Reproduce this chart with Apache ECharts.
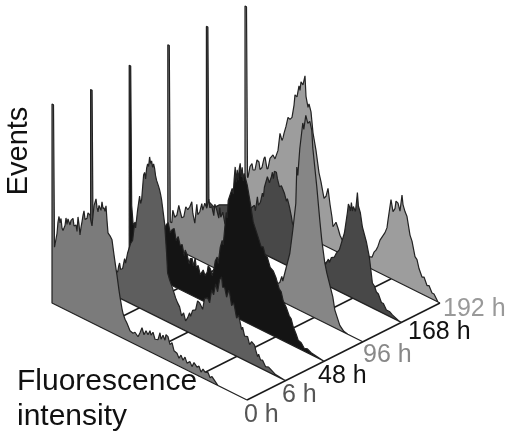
<!DOCTYPE html>
<html>
<head>
<meta charset="utf-8">
<title>Events vs fluorescence intensity</title>
<script src="https://cdn.jsdelivr.net/npm/echarts@6/dist/echarts.min.js"></script>
<style>
  html, body { margin: 0; padding: 0; background: #fff; }
  #chart { width: 512px; height: 439px; }
</style>
</head>
<body>
<div id="chart"></div>
<script>
// histograms as [channel, events]
const hist0h = [[0,0],[0,199],[1.5,199],[2.5,57],[3,60],[5,72],[6,84],[7,90],[8,84],[9,89],[10,80],[11,78],[13,84],[14,92],[15,86],[16,92],[18,87],[19,92],[21,95],[22,88],[24,90],[25,84],[26,99],[27,92],[28,82],[29,90],[30,96],[31,103],[32,108],[33,100],[35,102],[36,108],[38,107],[39,101],[40,97],[41,108],[42,118],[44,126],[45,118],[46,114],[47,121],[49,117],[50,126],[51,120],[52,121],[53,118],[54,124],[55,110],[56,98],[58,96],[60,93],[62,79],[64,66],[65,60],[67,46],[68,40],[70,29],[71,25],[73,20],[75,17],[78,11],[81,10],[83,12],[86,9],[88,14],[90,20],[92,14],[94,19],[96,16],[98,21],[99,17],[101,21],[103,15],[106,16],[108,24],[109,18],[111,23],[113,19],[114,25],[116,24],[118,17],[120,20],[122,13],[125,12],[127,8],[129,12],[131,8],[133,12],[135,7],[138,10],[140,6],[142,11],[145,8],[147,10],[149,5],[151,9],[153,7],[156,8],[158,4],[160,6],[163,3],[166,0],[195,0]];
const hist6h = [[0,0],[0,194],[1.5,194],[2.5,40],[5,30],[15,28],[27,25],[28,31],[29,35],[30,29],[32,31],[34,42],[35,38],[37,49],[40,60],[42,64],[44,82],[45,78],[47,97],[49,112],[50,105],[51,109],[53,135],[54,138],[55,132],[56,143],[57,148],[58,146],[59,156],[60,150],[61,153],[62,147],[63,151],[64,147],[65,140],[66,136],[68,131],[69,128],[70,124],[71,119],[74,97],[76,68],[77,49],[79,43],[82,36],[85,28],[87,24],[89,21],[91,13],[93,17],[95,10],[97,14],[99,20],[100,17],[102,24],[105,26],[107,36],[109,35],[112,30],[114,42],[117,44],[119,40],[121,54],[123,50],[125,62],[127,55],[129,68],[131,72],[132,62],[134,63],[136,54],[138,62],[139,60],[141,48],[143,52],[144,48],[146,38],[148,42],[149,38],[151,29],[152,32],[154,24],[157,25],[159,18],[161,22],[164,20],[165,16],[167,10],[168,13],[170,8],[172,9],[175,4],[178,5],[185,1],[193,0],[195,0]];
const hist48h = [[0,0],[0,199],[1.5,199],[2.5,60],[4,41],[6,45],[8,36],[21,30],[31,40],[37,58],[39,61],[41,52],[43,56],[45,58],[47,47],[49,52],[51,44],[53,46],[55,36],[56,42],[58,38],[60,30],[61,36],[63,37],[64,30],[66,39],[67,30],[69,33],[71,25],[74,31],[76,26],[78,31],[79,38],[81,36],[83,30],[85,39],[86,46],[88,51],[89,45],[91,62],[93,70],[94,66],[96,89],[97,100],[98,95],[99,113],[101,120],[103,127],[104,122],[105,138],[106,150],[107,135],[108,148],[109,138],[110,150],[111,156],[112,143],[113,153],[114,140],[115,148],[118,138],[121,122],[124,104],[129,91],[132,83],[134,84],[136,77],[138,76],[141,67],[144,65],[147,59],[150,50],[152,48],[154,40],[157,35],[160,28],[162,26],[164,19],[167,13],[169,8],[172,7],[175,3],[178,4],[182,2],[194,0],[195,0]];
const hist96h = [[0,0],[0,200],[1.5,200],[2.5,24],[4,24],[5,37],[7,31],[9,34],[11,45],[12,41],[14,34],[16,36],[18,47],[20,45],[22,49],[24,55],[25,44],[27,35],[29,55],[30,45],[32,49],[34,58],[35,52],[37,60],[39,56],[41,66],[42,58],[44,60],[46,52],[47,64],[49,59],[51,52],[52,63],[53,54],[55,60],[57,50],[72,30],[92,20],[110,16],[112,18],[114,25],[115,21],[117,30],[122,52],[125,77],[128,105],[129,142],[130,134],[132,162],[135,189],[136,183],[138,198],[140,191],[142,194],[144,186],[145,169],[149,132],[152,100],[154,81],[157,60],[159,51],[165,30],[167,18],[172,5],[176,1],[180,0],[195,0]];
const hist168h = [[0,0],[0,199],[1.5,199],[2.5,25],[8,22],[13,27],[21,31],[33,35],[45,40],[48,44],[49,39],[51,54],[52,46],[54,50],[56,60],[57,57],[58,67],[61,79],[63,74],[65,81],[66,86],[67,80],[68,88],[70,88],[71,82],[73,75],[75,77],[78,71],[80,64],[81,67],[83,60],[85,51],[86,45],[98,29],[119,20],[122,27],[123,24],[125,30],[128,32],[130,37],[133,42],[138,61],[141,83],[142,92],[143,90],[144,86],[145,95],[146,87],[147,92],[149,88],[150,97],[151,108],[152,95],[154,89],[156,76],[160,63],[163,49],[166,25],[168,23],[170,18],[172,17],[175,10],[177,10],[180,5],[183,5],[186,3],[193,0],[195,0]];
const hist192h = [[0,0],[0,200],[1.5,200],[2.5,30],[3,30],[5,42],[7,46],[8,40],[10,41],[12,52],[14,51],[15,44],[17,47],[19,57],[20,59],[22,48],[23,49],[25,60],[28,65],[30,62],[33,72],[35,90],[37,84],[38,87],[39,92],[41,100],[43,110],[45,109],[47,112],[49,125],[50,136],[52,135],[54,147],[55,143],[56,152],[58,150],[60,160],[61,140],[63,130],[64,134],[66,127],[68,107],[71,91],[74,70],[76,62],[79,47],[81,50],[83,59],[85,44],[87,32],[88,23],[91,29],[93,24],[95,18],[98,13],[110,6],[127,12],[129,18],[131,21],[133,26],[135,33],[140,43],[142,49],[143,57],[146,79],[148,68],[150,72],[151,80],[153,79],[155,72],[157,89],[158,80],[160,74],[162,70],[165,53],[167,48],[170,34],[172,32],[174,24],[177,17],[179,18],[182,11],[184,12],[187,6],[189,6],[193,0],[195,0]];

const hours = ["0 h", "6 h", "48 h", "96 h", "168 h", "192 h"];
const histograms = [hist0h, hist6h, hist48h, hist96h, hist168h, hist192h];
const fills = ["#7b7b7b", "#5e5e5e", "#141414", "#868686", "#484848", "#9d9d9d"];
const floorChannels = [48.75, 97.5, 146.25, 195];

// oblique projection, one step back in time moves the plane by this much
const DEPTH_X = 38.6;
const DEPTH_Y = 19.4;
const SLOPE = 0.4974;
const project = (channel, layer, events) => [
  channel + DEPTH_X * layer,
  events - SLOPE * channel + DEPTH_Y * layer,
];

const chart = echarts.init(document.getElementById("chart"));

const floorSeries = {
  type: "custom",
  name: "floor",
  silent: true,
  animation: false,
  clip: false,
  data: floorChannels.map((c) => [c]),
  renderItem(params, api) {
    const c = api.value(0);
    return {
      type: "polyline",
      shape: {
        points: [api.coord(project(c, 0, 0)), api.coord(project(c, 5, 0))],
      },
      style: { fill: null, stroke: "#1a1a1a", lineWidth: 1.5 },
    };
  },
};

// back to front, so nearer histograms paint over the later ones
const histSeries = [5, 4, 3, 2, 1, 0].map((layer) => ({
  type: "custom",
  name: hours[layer],
  silent: true,
  animation: false,
  clip: false,
  data: [[layer]],
  renderItem(params, api) {
    const points = histograms[layer].map((p) =>
      api.coord(project(p[0], layer, p[1]))
    );
    return {
      type: "polygon",
      shape: { points },
      style: {
        fill: fills[layer],
        stroke: "#222",
        lineWidth: 1.2,
        lineJoin: "bevel",
      },
    };
  },
}));

const label = (text, x, y, size, color) => ({
  type: "text",
  x,
  y,
  silent: true,
  style: {
    text,
    fill: color,
    font: size + 'px "Liberation Sans"',
    verticalAlign: "bottom",
  },
});

chart.setOption({
  animation: false,
  backgroundColor: "#fff",
  grid: { left: 0, right: 0, top: 0, bottom: 0 },
  xAxis: { type: "value", min: -52, max: 460, show: false },
  yAxis: { type: "value", min: -136, max: 303, show: false },
  series: [floorSeries].concat(histSeries),
  graphic: [
    {
      type: "text",
      x: 19,
      y: 151,
      rotation: Math.PI / 2,
      silent: true,
      style: {
        text: "Events",
        fill: "#111",
        font: '29px "Liberation Sans"',
        align: "center",
        verticalAlign: "middle",
      },
    },
    label("Fluorescence", 17, 397, 30, "#111"),
    label("intensity", 17, 432, 30, "#111"),
    label(hours[0], 244, 428, 25, "#555"),
    label(hours[1], 282, 408, 25, "#555"),
    label(hours[2], 318, 389, 25, "#111"),
    label(hours[3], 363, 368, 25, "#888"),
    label(hours[4], 408, 345, 25, "#111"),
    label(hours[5], 443, 322, 25, "#999"),
  ],
});
</script>
</body>
</html>
